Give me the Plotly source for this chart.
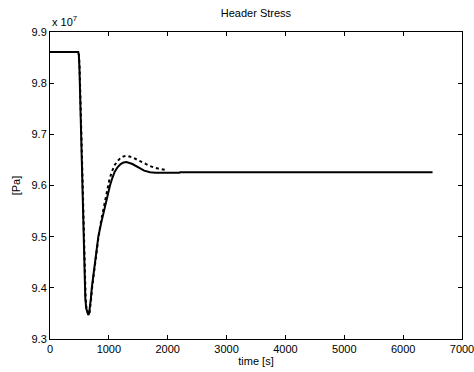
import plotly.graph_objects as go

# values in units of 1e7 Pa
t_solid = [0, 480, 490, 500, 520, 540, 560, 575, 588, 600, 615, 635, 650, 665, 680, 695, 710, 760, 821, 870, 917, 970, 1019, 1060, 1100, 1150, 1200, 1250, 1300, 1400, 1500, 1600, 1700, 1790, 2200, 2210, 6500]
p_solid = [9.861, 9.861, 9.855, 9.83, 9.74, 9.65, 9.55, 9.47, 9.41, 9.38, 9.36, 9.35, 9.347, 9.35, 9.362, 9.38, 9.40, 9.45, 9.50, 9.527, 9.55, 9.578, 9.60, 9.615, 9.627, 9.636, 9.642, 9.645, 9.646, 9.642, 9.635, 9.629, 9.626, 9.625, 9.625, 9.626, 9.626]

t_dot = [0, 480, 492, 503, 524, 545, 565, 580, 593, 605, 620, 640, 655, 670, 685, 700, 715, 765, 825, 870, 917, 965, 1010, 1055, 1100, 1150, 1200, 1250, 1300, 1400, 1500, 1600, 1700, 1800, 1900, 1980]
p_dot = [9.861, 9.861, 9.855, 9.83, 9.74, 9.65, 9.55, 9.47, 9.41, 9.38, 9.36, 9.35, 9.347, 9.35, 9.362, 9.38, 9.40, 9.45, 9.50, 9.532, 9.56, 9.588, 9.612, 9.628, 9.640, 9.648, 9.654, 9.657, 9.658, 9.655, 9.649, 9.643, 9.638, 9.634, 9.631, 9.630]

x_ticks = [0, 1000, 2000, 3000, 4000, 5000, 6000, 7000]
y_ticks = [9.3, 9.4, 9.5, 9.6, 9.7, 9.8, 9.9]

font = dict(family="Liberation Sans, Arial, sans-serif", size=11, color="black")

fig = go.Figure()
fig.add_trace(go.Scatter(x=t_dot, y=p_dot, mode="lines",
                         line=dict(color="black", width=2, dash="dot"), showlegend=False))
fig.add_trace(go.Scatter(x=t_solid, y=p_solid, mode="lines",
                         line=dict(color="black", width=2), showlegend=False))

axis_common = dict(showline=True, linecolor="black", linewidth=1, mirror="ticks",
                   ticks="inside", ticklen=4, tickcolor="black", showgrid=False,
                   zeroline=False, tickfont=font, automargin=False,
                   ticklabeloverflow="allow")
fig.update_xaxes(range=[0, 7000], tickvals=x_ticks, ticktext=[str(v) for v in x_ticks],
                 title=dict(text="time [s]", font=font, standoff=1), **axis_common)
fig.update_yaxes(range=[9.3, 9.9], tickvals=y_ticks, ticktext=[f"{v:.1f}" for v in y_ticks],
                 title=dict(text="[Pa]", font=font, standoff=8), **axis_common)

fig.update_layout(
    width=474, height=372,
    margin=dict(l=50, r=12, t=32, b=33),
    paper_bgcolor="white", plot_bgcolor="white",
    font=font,
    title=dict(text="Header Stress", x=0.54, xanchor="center", y=0.975, yanchor="top", font=font),
    annotations=[dict(text="x 10<sup>7</sup>", xref="paper", yref="paper", x=0, y=1.0,
                      xanchor="left", yanchor="bottom", showarrow=False, font=font, yshift=2)],
)
fig.write_html("out.html")
